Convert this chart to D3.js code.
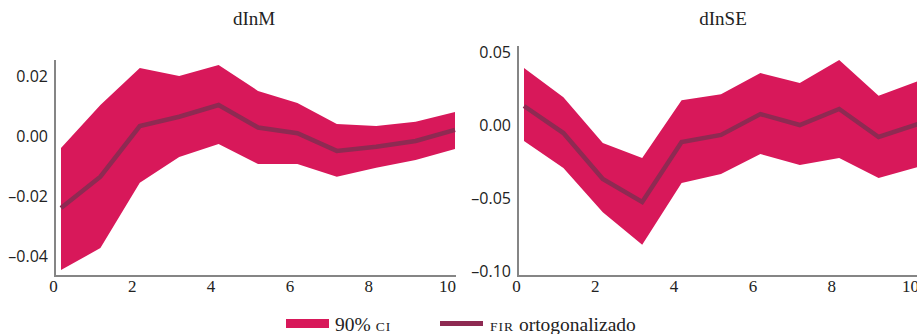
<!DOCTYPE html>
<head>
  <meta charset="utf-8">
  <style>
    body { margin: 0; background: #fff; }
    svg text { fill: #222; }
    .title { font-family: "Liberation Serif", serif; font-size: 19px; text-anchor: middle; }
    .ytick text { font-family: "Open Sans", "Noto Sans", sans-serif; font-size: 16px; }
    .xtick text { font-family: "Liberation Serif", serif; font-size: 17px; }
    .legend text { font-family: "Liberation Serif", serif; font-size: 19.5px; }
    .legend .sc { font-size: 13.5px; letter-spacing: 1px; }
  </style>
</head>
<body>
  <svg width=917 height=334 id="chart"></svg>
  <script src="https://d3js.org/d3.v7.min.js"></script>
  <script>
    // horizon 0..10
    let steps = [0, 1, 2, 3, 4, 5, 6, 7, 8, 9, 10];

    // dInM
    let mLine  = [-0.024, -0.0136, 0.0033, 0.0064, 0.0103, 0.0028, 0.0009, -0.005, -0.0036, -0.0017, 0.002];
    let mUpper = [-0.004, 0.0103, 0.0226, 0.020, 0.0236, 0.015, 0.011, 0.004, 0.0033, 0.0047, 0.008];
    let mLower = [-0.0447, -0.0374, -0.0156, -0.007, -0.0027, -0.0094, -0.0094, -0.0136, -0.0106, -0.008, -0.0044];

    // dInSE
    let seLine  = [0.013, -0.0055, -0.037, -0.0527, -0.0116, -0.0068, 0.0075, 0.0, 0.011, -0.0082, 0.0007];
    let seUpper = [0.039, 0.019, -0.0123, -0.0226, 0.017, 0.021, 0.0356, 0.0288, 0.0445, 0.020, 0.030];
    let seLower = [-0.011, -0.0295, -0.0598, -0.082, -0.0397, -0.0336, -0.0199, -0.0274, -0.0226, -0.0363, -0.0288];

    let mTicks = [-0.04, -0.02, 0.00, 0.02];
    let seTicks = [-0.10, -0.05, 0.00, 0.05];
    let xTicks = [0, 2, 4, 6, 8, 10];

    let bandColor = "#d8185a",
        lineColor = "#8e2a52",
        axisColor = "#858585";

    let svg = d3.select("#chart");
    let fmt = d => (d < 0 ? "\u2013" : "") + d3.format(".2f")(Math.abs(d));

    function panel(opts) {
      let x = d3.scaleLinear().domain([0, 10]).range([opts.x0 + 6, opts.x0 + 6 + 394]);
      let y = d3.scaleLinear().domain(opts.ydom).range([opts.ybot, opts.ytop]);
      let g = svg.append("g");

      let rows = steps.map((s, i) => ({s: s, lo: opts.lower[i], hi: opts.upper[i], v: opts.line[i]}));

      g.append("path")
        .datum(rows)
        .attr("fill", bandColor)
        .attr("d", d3.area().x(d => x(d.s)).y0(d => y(d.lo)).y1(d => y(d.hi)));

      g.append("path")
        .datum(rows)
        .attr("fill", "none")
        .attr("stroke", lineColor)
        .attr("stroke-width", 4.5)
        .attr("d", d3.line().x(d => x(d.s)).y(d => y(d.v)));

      // axes
      let yAxis = g.append("g")
        .attr("class", "ytick")
        .attr("transform", `translate(${opts.x0},0)`)
        .call(d3.axisLeft(y).tickValues(opts.ticks).tickFormat(fmt).tickSize(0).tickPadding(7));
      yAxis.select(".domain").remove();

      let xAxis = g.append("g")
        .attr("class", "xtick")
        .attr("transform", `translate(-8,${opts.ybot})`)
        .call(d3.axisBottom(x).tickValues(xTicks).tickFormat(d3.format("d")).tickSize(0).tickPadding(4));
      xAxis.select(".domain").remove();

      g.append("path")
        .attr("fill", "none")
        .attr("stroke", axisColor)
        .attr("stroke-width", 2)
        .attr("d", `M${opts.x0},${y.range()[1]}V${opts.ybot}H${opts.x0 + 401}`);

      svg.append("text")
        .attr("class", "title")
        .attr("x", opts.tx)
        .attr("y", 25)
        .text(opts.title);
    }

    panel({x0: 55, ybot: 276, ytop: 60, ydom: [-0.0467, 0.0253],
           line: mLine, upper: mUpper, lower: mLower, ticks: mTicks, title: "dInM", tx: 254});
    panel({x0: 518, ybot: 276, ytop: 46, ydom: [-0.1034, 0.0541],
           line: seLine, upper: seUpper, lower: seLower, ticks: seTicks, title: "dInSE", tx: 723});

    // legend
    let leg = svg.append("g").attr("class", "legend");
    leg.append("rect").attr("x", 286).attr("y", 319).attr("width", 43).attr("height", 9).attr("fill", bandColor);
    let t1 = leg.append("text").attr("x", 335).attr("y", 331);
    t1.append("tspan").text("90% ");
    t1.append("tspan").attr("class", "sc").text("CI");
    leg.append("rect").attr("x", 440).attr("y", 321).attr("width", 43).attr("height", 5).attr("fill", lineColor);
    let t2 = leg.append("text").attr("x", 490).attr("y", 331);
    t2.append("tspan").attr("class", "sc").text("FIR");
    t2.append("tspan").text(" ortogonalizado");
  </script>
</body>
